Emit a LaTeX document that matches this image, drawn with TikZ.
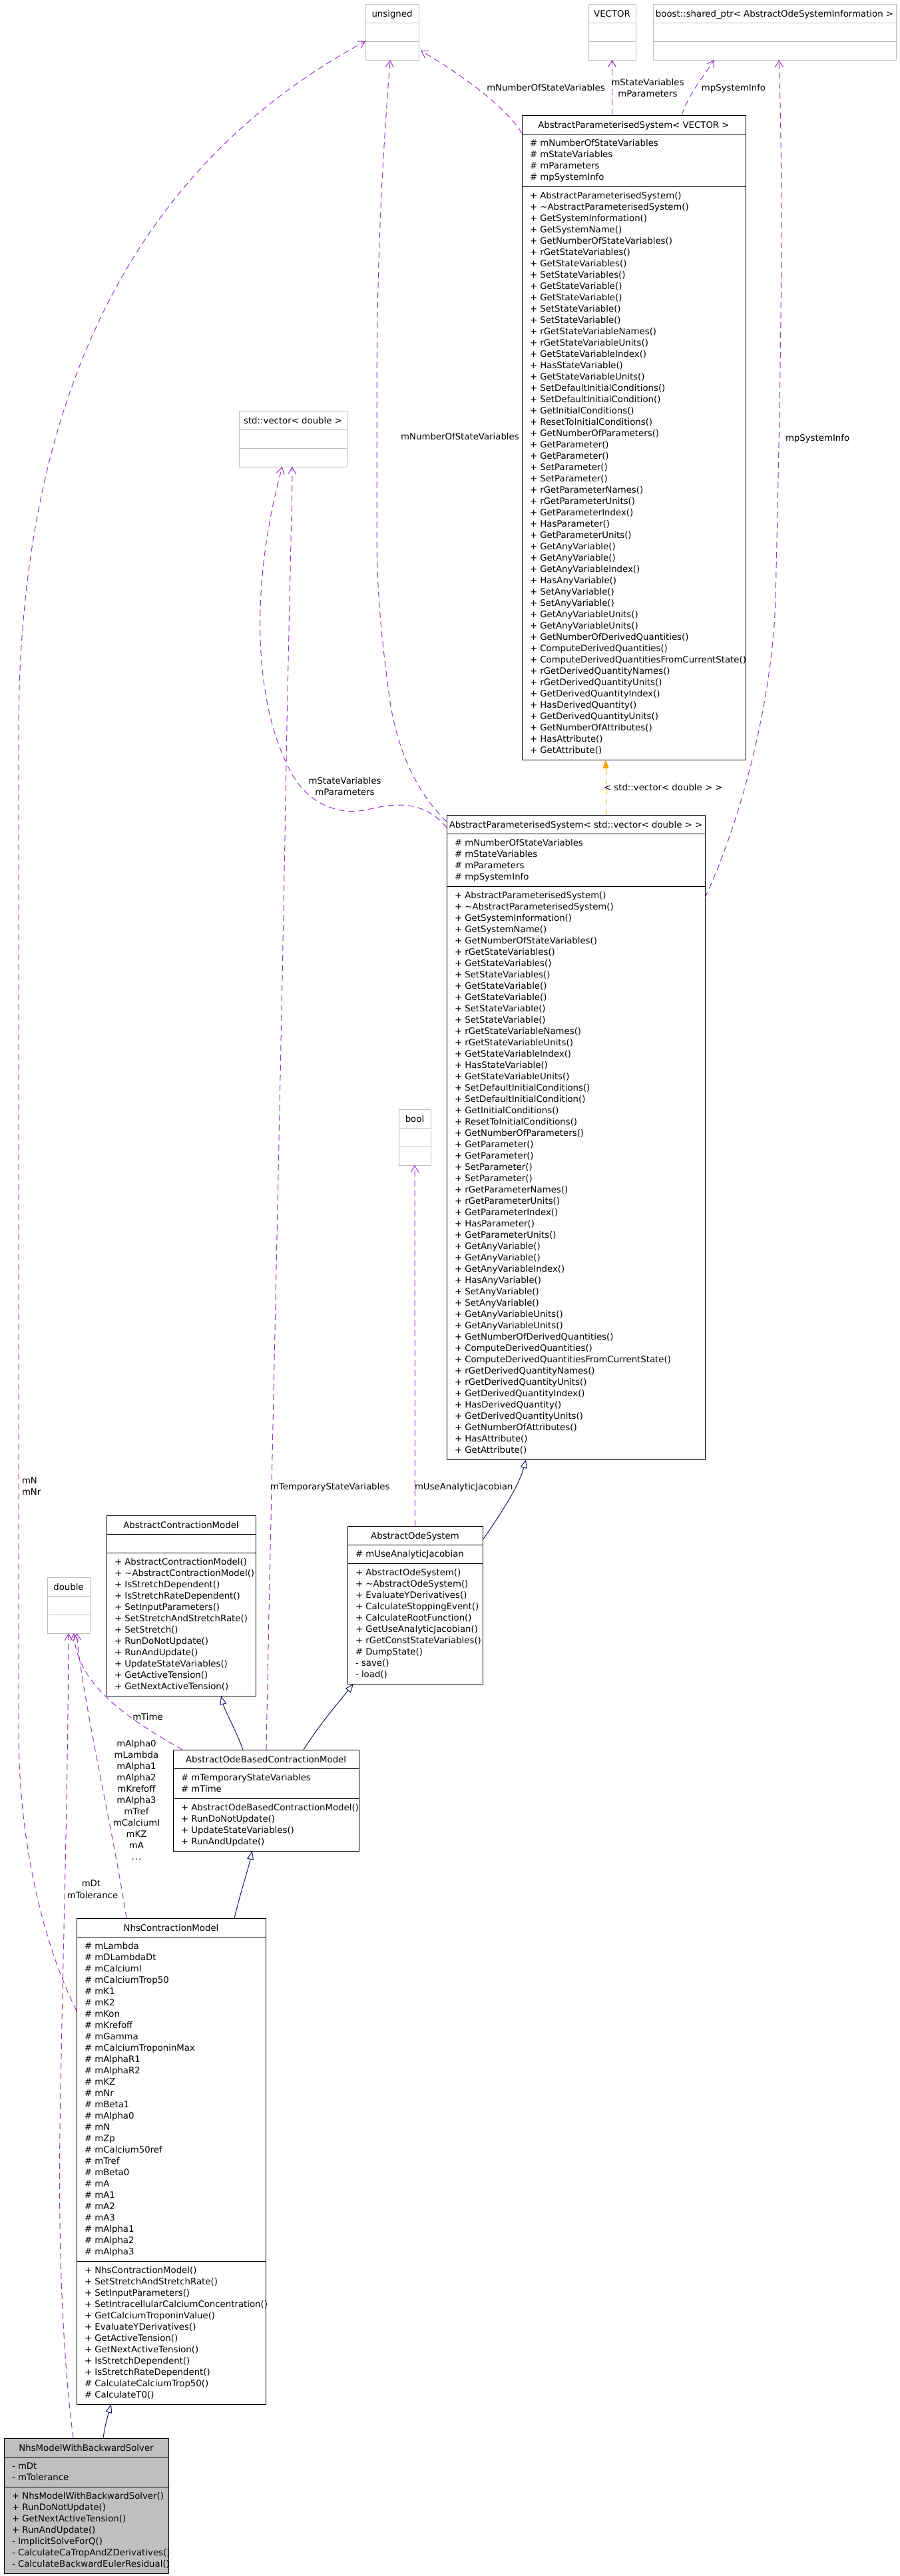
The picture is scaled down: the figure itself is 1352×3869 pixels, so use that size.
\documentclass[tikz,border=0pt]{standalone}
\usepackage{fontspec}
\setmainfont{DejaVu Sans}
\usetikzlibrary{arrows.meta,calc}
\definecolor{depc}{HTML}{9A32CD}
\definecolor{inhc}{HTML}{191970}
\definecolor{tplc}{HTML}{FFA500}
\definecolor{greyc}{HTML}{BFBFBF}
\newcommand{\clsfill}{white}
\newcommand{\clsdraw}{black}
% #1 name, #2 x, #3 y, #4 width, #5 title, #6 n attrs, #7 attrs, #8 n methods, #9 methods
\newcommand{\umlclass}[9]{%
  \pgfmathsetmacro{\ya}{#3+28}%
  \pgfmathsetmacro{\ym}{\ya+ifthenelse(#6==0,28,#6*17+11)}%
  \pgfmathsetmacro{\yb}{\ym+ifthenelse(#8==0,28,#8*17+11)}%
  \pgfmathsetmacro{\xr}{#2+#4}%
  \pgfmathsetmacro{\hh}{\yb-#3}%
  \node[clsbox, draw=\clsdraw, fill=\clsfill, minimum width=#4pt, minimum height=\hh pt, anchor=north west] (#1) at (#2,#3) {};
  \draw[draw=\clsdraw, line width=1pt] (#2,\ya) -- (\xr,\ya) (#2,\ym) -- (\xr,\ym);
  \node[txt, anchor=base] (#1-t) at ({#2+#4/2},{#3+19}) {#5};
  \ifnum#6>0\relax
    \foreach \s [count=\i] in {#7}{\node[txt, anchor=base west] (#1-a\i) at ({#2+12},{\ya+18+17*(\i-1)}) {\s};}
  \fi
  \ifnum#8>0\relax
    \foreach \s [count=\i] in {#9}{\node[txt, anchor=base west] (#1-m\i) at ({#2+12},{\ym+18+17*(\i-1)}) {\s};}
  \fi
}
\begin{document}
\begin{tikzpicture}[x=1pt,y=-1pt,
  font=\fontsize{13.3}{17}\selectfont,
  txt/.style={inner sep=0pt, outer sep=0pt},
  lbl/.style={inner sep=0pt, outer sep=0pt, anchor=base},
  clsbox/.style={rectangle, line width=1pt, inner sep=0pt, outer sep=0pt},
  dep/.style={draw=depc, line width=1pt, dash pattern=on 9pt off 6pt, -{Straight Barb[length=10pt,width=12pt,line width=1pt]}},
  inh/.style={draw=inhc, line width=1pt, -{Triangle[open,length=13pt,width=10pt,line width=1pt]}},
  tmpl/.style={draw=tplc, line width=1pt, dash pattern=on 9pt off 6pt, -{Triangle[length=13pt,width=9pt]}}]
\fill[white] (0,0) rectangle (1352,3869);
\useasboundingbox (0,0) rectangle (1352,3869);

% ---------- grey type boxes ----------
\renewcommand{\clsdraw}{greyc}
\umlclass{uns}{549}{6}{80}{unsigned}{0}{}{0}{}
\umlclass{vec}{884}{6}{71}{VECTOR}{0}{}{0}{}
\umlclass{bst}{981}{6}{365}{boost::shared\_ptr< AbstractOdeSystemInformation >}{0}{}{0}{}
\umlclass{svd}{359}{617}{162}{std::vector< double >}{0}{}{0}{}
\umlclass{boo}{599}{1666}{48}{bool}{0}{}{0}{}
\umlclass{dbl}{71}{2369}{64}{double}{0}{}{0}{}
\renewcommand{\clsdraw}{black}

% ---------- AbstractParameterisedSystem< VECTOR > ----------
\umlclass{apsv}{784}{173}{336}{AbstractParameterisedSystem< VECTOR >}{4}{\# mNumberOfStateVariables,\# mStateVariables,\# mParameters,\# mpSystemInfo}{50}{+ AbstractParameterisedSystem(),+ \textasciitilde AbstractParameterisedSystem(),+ GetSystemInformation(),+ GetSystemName(),+ GetNumberOfStateVariables(),+ rGetStateVariables(),+ GetStateVariables(),+ SetStateVariables(),+ GetStateVariable(),+ GetStateVariable(),+ SetStateVariable(),+ SetStateVariable(),+ rGetStateVariableNames(),+ rGetStateVariableUnits(),+ GetStateVariableIndex(),+ HasStateVariable(),+ GetStateVariableUnits(),+ SetDefaultInitialConditions(),+ SetDefaultInitialCondition(),+ GetInitialConditions(),+ ResetToInitialConditions(),+ GetNumberOfParameters(),+ GetParameter(),+ GetParameter(),+ SetParameter(),+ SetParameter(),+ rGetParameterNames(),+ rGetParameterUnits(),+ GetParameterIndex(),+ HasParameter(),+ GetParameterUnits(),+ GetAnyVariable(),+ GetAnyVariable(),+ GetAnyVariableIndex(),+ HasAnyVariable(),+ SetAnyVariable(),+ SetAnyVariable(),+ GetAnyVariableUnits(),+ GetAnyVariableUnits(),+ GetNumberOfDerivedQuantities(),+ ComputeDerivedQuantities(),+ ComputeDerivedQuantitiesFromCurrentState(),+ rGetDerivedQuantityNames(),+ rGetDerivedQuantityUnits(),+ GetDerivedQuantityIndex(),+ HasDerivedQuantity(),+ GetDerivedQuantityUnits(),+ GetNumberOfAttributes(),+ HasAttribute(),+ GetAttribute()}

% ---------- AbstractParameterisedSystem< std::vector< double > > ----------
\umlclass{apsd}{671}{1224}{388}{AbstractParameterisedSystem< std::vector< double > >}{4}{\# mNumberOfStateVariables,\# mStateVariables,\# mParameters,\# mpSystemInfo}{50}{+ AbstractParameterisedSystem(),+ \textasciitilde AbstractParameterisedSystem(),+ GetSystemInformation(),+ GetSystemName(),+ GetNumberOfStateVariables(),+ rGetStateVariables(),+ GetStateVariables(),+ SetStateVariables(),+ GetStateVariable(),+ GetStateVariable(),+ SetStateVariable(),+ SetStateVariable(),+ rGetStateVariableNames(),+ rGetStateVariableUnits(),+ GetStateVariableIndex(),+ HasStateVariable(),+ GetStateVariableUnits(),+ SetDefaultInitialConditions(),+ SetDefaultInitialCondition(),+ GetInitialConditions(),+ ResetToInitialConditions(),+ GetNumberOfParameters(),+ GetParameter(),+ GetParameter(),+ SetParameter(),+ SetParameter(),+ rGetParameterNames(),+ rGetParameterUnits(),+ GetParameterIndex(),+ HasParameter(),+ GetParameterUnits(),+ GetAnyVariable(),+ GetAnyVariable(),+ GetAnyVariableIndex(),+ HasAnyVariable(),+ SetAnyVariable(),+ SetAnyVariable(),+ GetAnyVariableUnits(),+ GetAnyVariableUnits(),+ GetNumberOfDerivedQuantities(),+ ComputeDerivedQuantities(),+ ComputeDerivedQuantitiesFromCurrentState(),+ rGetDerivedQuantityNames(),+ rGetDerivedQuantityUnits(),+ GetDerivedQuantityIndex(),+ HasDerivedQuantity(),+ GetDerivedQuantityUnits(),+ GetNumberOfAttributes(),+ HasAttribute(),+ GetAttribute()}

% ---------- AbstractContractionModel ----------
\umlclass{acm}{160}{2276}{224}{AbstractContractionModel}{0}{}{12}{+ AbstractContractionModel(),+ \textasciitilde AbstractContractionModel(),+ IsStretchDependent(),+ IsStretchRateDependent(),+ SetInputParameters(),+ SetStretchAndStretchRate(),+ SetStretch(),+ RunDoNotUpdate(),+ RunAndUpdate(),+ UpdateStateVariables(),+ GetActiveTension(),+ GetNextActiveTension()}

% ---------- AbstractOdeSystem ----------
\umlclass{aos}{522}{2292}{203}{AbstractOdeSystem}{1}{\# mUseAnalyticJacobian}{10}{+ AbstractOdeSystem(),+ \textasciitilde AbstractOdeSystem(),+ EvaluateYDerivatives(),+ CalculateStoppingEvent(),+ CalculateRootFunction(),+ GetUseAnalyticJacobian(),+ rGetConstStateVariables(),\# DumpState(),- save(),- load()}

% ---------- AbstractOdeBasedContractionModel ----------
\umlclass{aobcm}{260}{2628}{279}{AbstractOdeBasedContractionModel}{2}{\# mTemporaryStateVariables,\# mTime}{4}{+ AbstractOdeBasedContractionModel(),+ RunDoNotUpdate(),+ UpdateStateVariables(),+ RunAndUpdate()}

% ---------- NhsContractionModel ----------
\umlclass{ncm}{115}{2881}{284}{NhsContractionModel}{28}{\# mLambda,\# mDLambdaDt,\# mCalciumI,\# mCalciumTrop50,\# mK1,\# mK2,\# mKon,\# mKrefoff,\# mGamma,\# mCalciumTroponinMax,\# mAlphaR1,\# mAlphaR2,\# mKZ,\# mNr,\# mBeta1,\# mAlpha0,\# mN,\# mZp,\# mCalcium50ref,\# mTref,\# mBeta0,\# mA,\# mA1,\# mA2,\# mA3,\# mAlpha1,\# mAlpha2,\# mAlpha3}{12}{+ NhsContractionModel(),+ SetStretchAndStretchRate(),+ SetInputParameters(),+ SetIntracellularCalciumConcentration(),+ GetCalciumTroponinValue(),+ EvaluateYDerivatives(),+ GetActiveTension(),+ GetNextActiveTension(),+ IsStretchDependent(),+ IsStretchRateDependent(),\# CalculateCalciumTrop50(),\# CalculateT0()}

% ---------- NhsModelWithBackwardSolver ----------
\renewcommand{\clsfill}{greyc}
\umlclass{nmw}{6}{3662}{247}{NhsModelWithBackwardSolver}{2}{- mDt,- mTolerance}{7}{+ NhsModelWithBackwardSolver(),+ RunDoNotUpdate(),+ GetNextActiveTension(),+ RunAndUpdate(),- ImplicitSolveForQ(),- CalculateCaTropAndZDerivatives(),- CalculateBackwardEulerResidual()}
\renewcommand{\clsfill}{white}

% ---------- usage edges ----------
\draw[dep] ($(apsv.north west)+(0,27)$) .. controls (760,160) and (690,110) .. ($(uns.south east)+(3,-14)$);
\node[lbl] (l1) at (820,136) {mNumberOfStateVariables};

\draw[dep] (apsv.north -| vec.south) -- (vec.south);
\node[lbl] (l2a) at (973,128) {mStateVariables};
\node[lbl] (l2b) at (973,145) {mParameters};

\draw[dep] ($(apsv.north west)+(240,0)$) .. controls (1035,140) and (1060,110) .. ($(bst.south west)+(92,0)$);
\node[lbl] (l3) at (1102,136) {mpSystemInfo};

\draw[dep] ($(apsd.north east)+(0,124)$) .. controls (1110,1240) and (1160,1060) .. (1165,900) .. controls (1172,600) and (1178,300) .. ($(bst.south west)+(189,0)$);
\node[lbl, anchor=base west] (l4) at (1180,662) {mpSystemInfo};

\draw[dep] ($(apsd.north west)+(0,10)$) .. controls (630,1195) and (595,1130) .. (584,1040) .. controls (572,950) and (566,880) .. (566,800) -- (566,600) .. controls (566,350) and (578,200) .. ($(uns.south west)+(37,0)$);
\node[lbl] (l5) at (691,660) {mNumberOfStateVariables};

\draw[dep] ($(apsd.north west)+(0,19)$) .. controls (640,1205) and (600,1205) .. (560,1214) .. controls (520,1226) and (470,1215) .. (440,1165) .. controls (380,1060) and (375,880) .. ($(svd.south west)+(65,0)$);
\node[lbl] (l6a) at (518,1177) {mStateVariables};
\node[lbl] (l6b) at (518,1194) {mParameters};

\draw[tmpl] ($(apsd.north west)+(239,0)$) -- ($(apsv.south west)+(126,0)$);
\node[lbl, anchor=base west] (l7) at (907,1187) {< std::vector< double > >};

\draw[dep] ($(aobcm.north west)+(140,0)$) .. controls (404,2400) and (420,1700) .. (428,1260) .. controls (432,1000) and (438,800) .. ($(svd.south west)+(80,0)$);
\node[lbl, anchor=base west] (l8) at (406,2237) {mTemporaryStateVariables};

\draw[dep] (aos.north) -- (boo.south);
\node[lbl, anchor=base west] (l9) at (623,2237) {mUseAnalyticJacobian};

\draw[dep] ($(aobcm.north west)+(14,0)$) .. controls (190,2580) and (115,2530) .. ($(dbl.south west)+(40,0)$);
\node[lbl] (l10) at (222,2583) {mTime};

\draw[dep] ($(ncm.north west)+(75,0)$) .. controls (170,2750) and (125,2560) .. ($(dbl.south west)+(44,0)$);
\foreach \s [count=\i] in {mAlpha0,mLambda,mAlpha1,mAlpha2,mKrefoff,mAlpha3,mTref,mCalciumI,mKZ,mA}
  {\node[lbl] (l11-\i) at ({205},{2623+17*(\i-1)}) {\s};}
\node[lbl] (l11-dots) at (205,2793) {.\kern1pt.\kern1pt.};

\draw[dep] ($(nmw.north west)+(104,0)$) .. controls (92,3520) and (88,3350) .. (90,3200) .. controls (95,2900) and (102,2700) .. ($(dbl.south west)+(32,0)$);
\node[lbl] (l12a) at (137,2833) {mDt};
\node[lbl] (l12b) at (139,2851) {mTolerance};

\draw[dep] ($(ncm.north west)+(0,139)$) .. controls (70,2930) and (28,2780) .. (28,2600) -- (28,1100) .. controls (28,600) and (200,250) .. ($(uns.south west)+(0,-28)$);
\node[lbl, anchor=base west] (l13a) at (33,2228) {mN};
\node[lbl, anchor=base west] (l13b) at (33,2245) {mNr};

% ---------- inheritance edges ----------
\draw[inh] ($(aos.north east)+(0,21)$) .. controls (755,2270) and (780,2230) .. ($(apsd.south west)+(119,0)$);
\draw[inh] ($(aobcm.north west)+(105,0)$) .. controls (355,2600) and (338,2570) .. ($(acm.south west)+(172,0)$);
\draw[inh] ($(aobcm.north west)+(196,0)$) .. controls (480,2590) and (510,2555) .. ($(aos.south west)+(9,0)$);
\draw[inh] ($(ncm.north west)+(237,0)$) .. controls (362,2840) and (372,2810) .. ($(aobcm.south west)+(119,0)$);
\draw[inh] ($(nmw.north west)+(149,0)$) .. controls (158,3640) and (163,3625) .. ($(ncm.south west)+(52,0)$);
\end{tikzpicture}
\end{document}
